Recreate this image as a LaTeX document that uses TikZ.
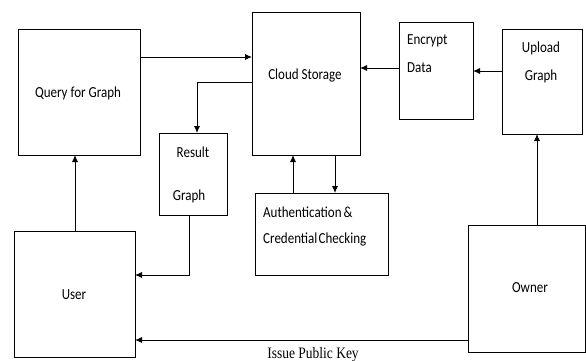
\documentclass[tikz,border=0pt]{standalone}
\usepackage{fontspec}
\setmainfont{Carlito}
\newfontfamily\serifface{Liberation Serif}
\usetikzlibrary{arrows.meta}
% slightly stretched lettering
\newcommand\tallText[1]{\scalebox{1}[1.18]{#1}}
\begin{document}
\begin{tikzpicture}[x=1pt,y=-1pt,
  box/.style={draw, line width=0.9pt},
  lbl/.style={font=\fontsize{13}{15}\selectfont, inner sep=0pt},
  link/.style={line width=0.9pt, -{Latex[length=7pt,width=6pt]}}]
\useasboundingbox (0,0) rectangle (586,361);

% boxes
\draw[box] (18.5,29.5) rectangle (140,155);
\draw[box] (252,12) rectangle (360,155);
\draw[box] (399,22) rectangle (473,119);
\draw[box] (502,29.5) rectangle (582,134);
\draw[box] (159,133) rectangle (227,215);
\draw[box] (255,193) rectangle (388,275);
\draw[box] (14,231) rectangle (135,357);
\draw[box] (468,225) rectangle (585.5,352);

% named anchor points on the box borders
\coordinate (qR) at (140,57);   \coordinate (cL) at (252,57);
\coordinate (cL2) at (252,82);  \coordinate (rT) at (197,133);
\coordinate (eL) at (399,68);   \coordinate (cR) at (360,68);
\coordinate (uL) at (502,71);   \coordinate (eR) at (473,71);
\coordinate (oT) at (537,225);  \coordinate (uB) at (537,134);
\coordinate (aT1) at (293,193); \coordinate (cB1) at (293,155);
\coordinate (cB2) at (335,155); \coordinate (aT2) at (335,193);
\coordinate (rB) at (189,215);  \coordinate (usR) at (135,275);
\coordinate (uT) at (75,231);   \coordinate (qB) at (75,155);
\coordinate (oL) at (468,340);  \coordinate (usR2) at (135,340);

% texts
\node[lbl] (q) at (78,93) {\tallText{Query for Graph}};
\node[lbl] (c) at (305,75) {\tallText{Cloud Storage}};
\node[lbl, anchor=west] (e1) at (407,41) {\tallText{Encrypt}};
\node[lbl, anchor=west] (e2) at (407,68) {\tallText{Data}};
\node[lbl] (u1) at (541,48) {\tallText{Upload}};
\node[lbl] (u2) at (541,76) {\tallText{Graph}};
\node[lbl] (r1) at (193,152) {\tallText{Result}};
\node[lbl] (r2) at (189,196) {\tallText{Graph}};
\node[lbl, anchor=west] (a1) at (263,212) {\tallText{Authentication\,\&}};
\node[lbl, anchor=west] (a2) at (263,239) {\tallText{Credential\hspace{0.1em}Checking}};
\node[lbl] (us) at (74,295) {\tallText{User}};
\node[lbl] (ow) at (530,288) {\tallText{Owner}};
\node[inner sep=0pt, font=\serifface\fontsize{13.5}{15}\selectfont] (ik) at (313,355) {\tallText{Issue Public Key}};

% connectors
\draw[link] (qR) -- (cL);
\draw[link] (cL2) -| (rT);
\draw[link] (eL) -- (cR);
\draw[link] (uL) -- (eR);
\draw[link] (oT) -- (uB);
\draw[link] (aT1) -- (cB1);
\draw[link] (cB2) -- (aT2);
\draw[link] (rB) |- (usR);
\draw[link] (uT) -- (qB);
\draw[link] (oL) -- (usR2);
\end{tikzpicture}
\end{document}
